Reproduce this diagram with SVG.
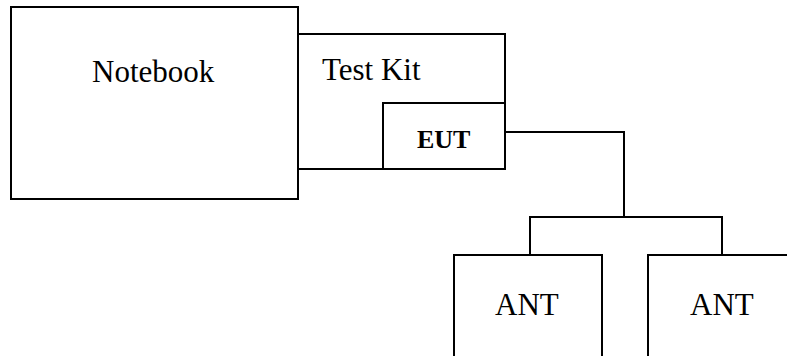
<svg xmlns="http://www.w3.org/2000/svg" width="787" height="356" viewBox="0 0 787 356">
<style>
.box{fill:none;stroke:#000;stroke-width:2}
.wire{fill:none;stroke:#000;stroke-width:2}
.t{font-family:"Liberation Serif","Times New Roman",serif;font-size:31px;fill:#000}
.b{font-family:"Liberation Serif","Times New Roman",serif;font-size:26px;font-weight:bold;fill:#000}
</style>
<rect width="787" height="356" fill="#fff"/>
<g id="notebook">
<rect class="box" x="11" y="7" width="287" height="192"/>
<text class="t" x="92" y="82">Notebook</text>
</g>
<g id="testkit">
<rect class="box" x="298" y="34" width="207" height="135"/>
<text class="t" x="322" y="80">Test Kit</text>
</g>
<g id="eut">
<rect class="box" x="383" y="103" width="122" height="66"/>
<text class="b" x="417" y="148">EUT</text>
</g>
<g id="ant1">
<rect class="box" x="454" y="255" width="148" height="110"/>
<text class="t" x="495" y="315">ANT</text>
</g>
<g id="ant2">
<rect class="box" x="648" y="255" width="150" height="110"/>
<text class="t" x="690" y="315">ANT</text>
</g>
<g id="connectors">
<polyline class="wire" points="505,132 624,132 624,217"/>
<polyline class="wire" points="530,255 530,217 722,217 722,255"/>
</g>
</svg>
